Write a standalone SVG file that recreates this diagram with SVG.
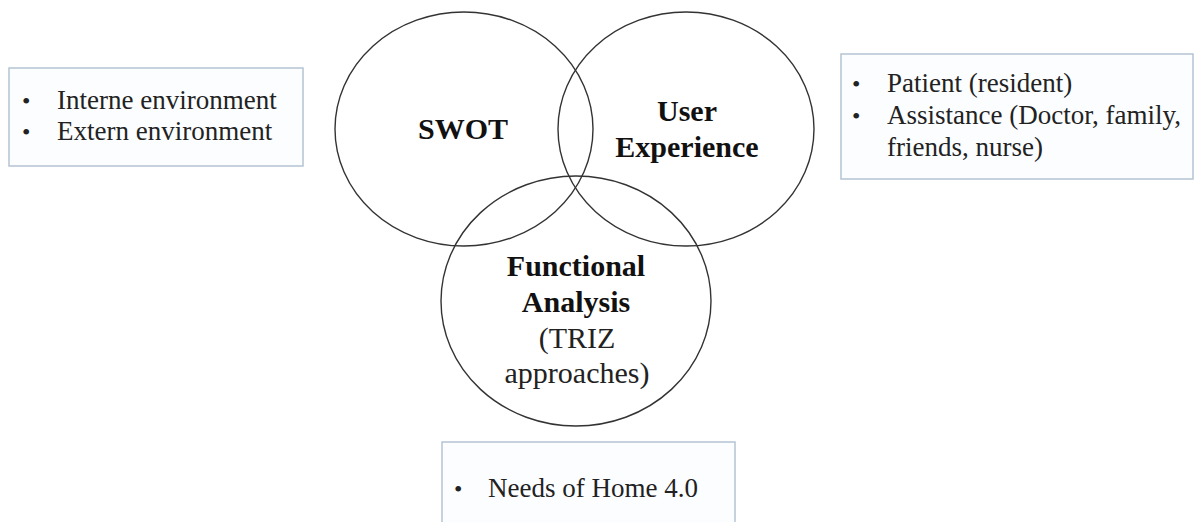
<svg xmlns="http://www.w3.org/2000/svg" width="1200" height="522" viewBox="0 0 1200 522">
<style>
.box{fill:#fcfdff;stroke:#b4c4d4;stroke-width:1.5}
.c{fill:none;stroke:#333;stroke-width:1.4}
.t{font-family:"Liberation Serif","Times New Roman",serif;font-size:27px;fill:#222}
.d{font-family:"Liberation Serif","Times New Roman",serif;font-size:24px;fill:#222}
.b{font-family:"Liberation Serif","Times New Roman",serif;font-size:30px;font-weight:bold;fill:#111;text-anchor:middle}
.r{font-family:"Liberation Serif","Times New Roman",serif;font-size:30px;fill:#222;text-anchor:middle}
</style>
<rect width="1200" height="522" fill="#fff"/>
<g id="swot"><ellipse class="c" cx="464" cy="129" rx="129" ry="117"/><text class="b" x="463" y="139">SWOT</text></g>
<g id="ux"><ellipse class="c" cx="686" cy="129" rx="128" ry="117"/><text class="b" x="687" y="121">User</text><text class="b" x="687" y="157">Experience</text></g>
<g id="fa"><ellipse class="c" cx="576" cy="301" rx="135" ry="125"/><text class="b" x="576" y="276">Functional</text><text class="b" x="576" y="312">Analysis</text><text class="r" x="577" y="348">(TRIZ</text><text class="r" x="577" y="383">approaches)</text></g>
<g id="box-left"><rect class="box" x="9" y="68" width="294" height="98"/><text class="d" x="22" y="109">•</text><text class="t" x="57" y="109">Interne environment</text><text class="d" x="22" y="140">•</text><text class="t" x="57" y="140">Extern environment</text></g>
<g id="box-right"><rect class="box" x="841" y="54" width="352" height="125"/><text class="d" x="852" y="92">•</text><text class="t" x="887" y="92">Patient (resident)</text><text class="d" x="852" y="124">•</text><text class="t" x="887" y="124">Assistance (Doctor, family,</text><text class="t" x="887" y="156">friends, nurse)</text></g>
<g id="box-bottom"><rect class="box" x="442" y="442" width="293" height="90"/><text class="d" x="454" y="497">•</text><text class="t" x="488" y="497">Needs of Home 4.0</text></g>
<g id="connectors"/>
</svg>
